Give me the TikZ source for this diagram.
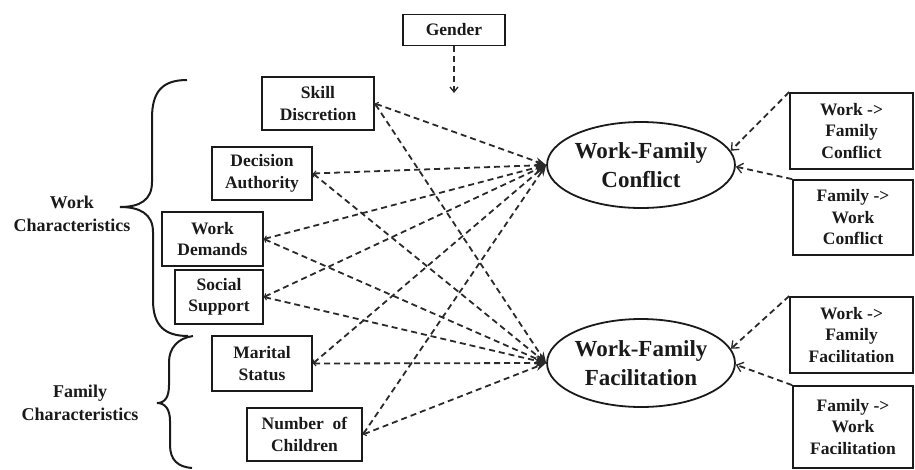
\documentclass[tikz,border=0pt]{standalone}
\usepackage{fontspec}
\setmainfont{Liberation Serif}
\usetikzlibrary{arrows.meta,shapes.geometric}
\definecolor{ink}{HTML}{1A1A1A}
\definecolor{dashc}{HTML}{2A2A2A}
\begin{document}
\begin{tikzpicture}[x=1pt,y=-1pt,
  box/.style={draw=ink,line width=1.8pt,align=center,inner sep=0pt,text=ink,
    font=\fontsize{17.5}{21.5}\selectfont\bfseries},
  oval/.style={draw=ink,line width=1.8pt,ellipse,align=center,inner sep=0pt,text=ink,
    font=\fontsize{23}{29}\selectfont\bfseries},
  lbl/.style={align=center,text=ink,font=\fontsize{18}{23}\selectfont\bfseries},
  dl/.style={draw=dashc,line width=1.8pt,dash pattern=on 6pt off 4pt},
  pred/.style={dl,{Straight Barb[length=2.5pt,width=5pt,line width=1pt]}-{Stealth[length=11pt,width=8pt]}},
  comp/.style={dl,-{Straight Barb[length=6pt,width=10pt,line width=1.3pt]}},
  brace/.style={draw=ink,line width=2pt}
]
\useasboundingbox (0,0) rectangle (915,469);

\node[box,minimum width=102pt,minimum height=31pt] (gender) at (454,30) {Gender};
\coordinate (gtip) at (454,93);

\node[box,minimum width=112pt,minimum height=53pt] (skill) at (318,103.5) {Skill\\Discretion};
\node[box,minimum width=100pt,minimum height=53pt] (decision) at (262,173.5) {Decision\\Authority};
\node[box,minimum width=101pt,minimum height=54pt] (demands) at (212.5,239) {Work\\Demands};
\node[box,minimum width=88pt,minimum height=54pt] (social) at (219,297) {Social\\Support};
\node[box,minimum width=100pt,minimum height=55pt] (marital) at (262,363.5) {Marital\\Status};
\node[box,minimum width=115pt,minimum height=53pt] (children) at (304.5,434.5) {Number\ \ of\\Children};

\node[oval,minimum width=182pt,minimum height=86pt] (wfc) at (641,165) {Work-Family\\Conflict};
\node[oval,minimum width=184pt,minimum height=88pt] (wff) at (641,363) {Work-Family\\Facilitation};

\node[box,minimum width=123pt,minimum height=76pt] (r1) at (851.5,131) {Work ->\\Family\\Conflict};
\node[box,minimum width=120pt,minimum height=75pt] (r2) at (853,217.5) {Family ->\\Work\\Conflict};
\node[box,minimum width=123pt,minimum height=76pt] (r3) at (851.5,335) {Work ->\\Family\\Facilitation};
\node[box,minimum width=120pt,minimum height=82pt] (r4) at (853,427) {Family ->\\Work\\Facilitation};

\node[lbl] (worklbl) at (72,214) {Work\\Characteristics};
\node[lbl] (famlbl) at (80,403) {Family\\Characteristics};

% braces
\draw[brace] (187,80) .. controls (162,80) and (152,92) .. (152,118) -- (152,182)
  .. controls (152,200) and (140,207) .. (120,207)
  .. controls (140,207) and (153,214) .. (153,232) -- (153,300)
  .. controls (153,326) and (165,336) .. (188,336);
\draw[brace] (193,336) .. controls (178,338) and (169,348) .. (169,362) -- (169,385)
  .. controls (169,397) and (165,403) .. (157,403)
  .. controls (165,403) and (170,409) .. (170,421) -- (170,445)
  .. controls (170,460) and (178,467) .. (192,468);

% gender
\draw[comp,-{Straight Barb[length=5pt,width=8pt,line width=1.3pt]}] (gender.south) -- (gtip);

% predictors
\foreach \p in {skill,decision,demands,social,marital,children}{
  \draw[pred] (\p.east) -- (wfc.west);
  \draw[pred] (\p.east) -- (wff.west);
}

% components
\draw[comp] (r1.north west) -- (wfc.9);
\draw[comp] (r2.north west) -- (wfc.-1);
\draw[comp] (r3.north west) -- (wff.9);
\draw[comp] (r4.north west) -- (wff.-1);
\end{tikzpicture}
\end{document}
